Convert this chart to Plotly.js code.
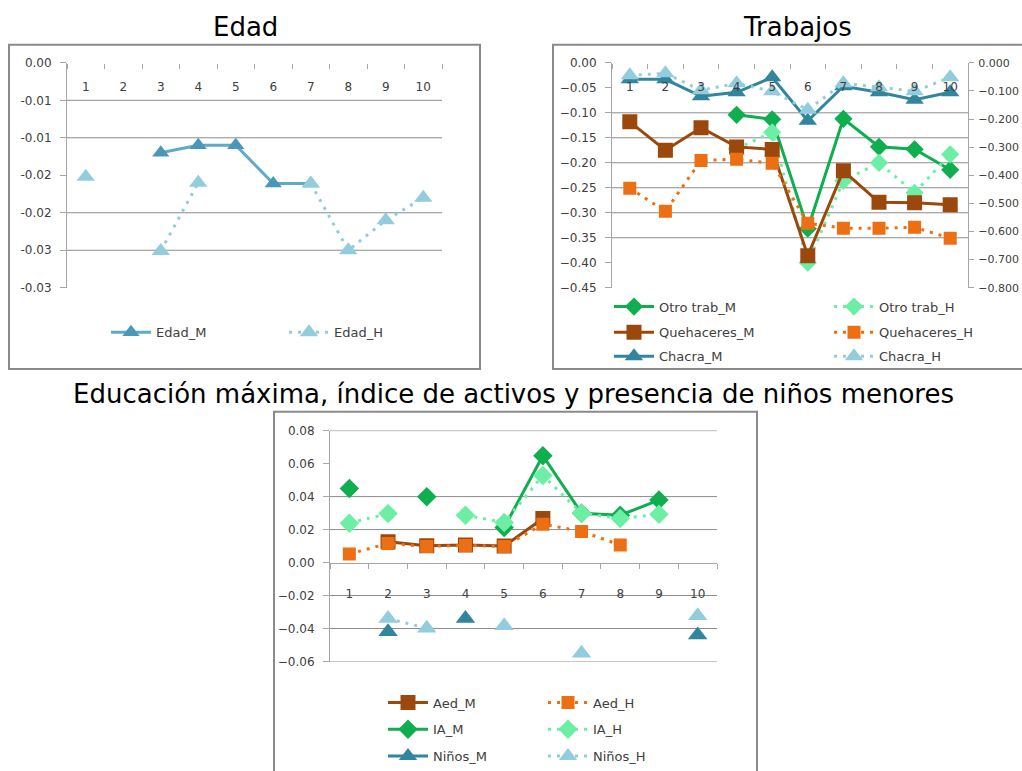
<!DOCTYPE html>
<html>
<head>
<meta charset="utf-8">
<script src="https://cdn.plot.ly/plotly-3.0.1.min.js"></script>
<style>
html,body{margin:0;padding:0;background:#fff;overflow:hidden;}
#chart{width:1022px;height:771px;}
</style>
</head>
<body>
<div id="chart"></div>
<script>
// ---------- DATA ----------
const categories = ['1','2','3','4','5','6','7','8','9','10'];

// Edad
const edadM = [null, null, -0.0120, -0.0110, -0.0110, -0.0161, -0.0161, null, null, null];
const edadH = [-0.0152, null, -0.0251, -0.0160, null, null, -0.0161, -0.0250, -0.0210, -0.0180];
const edadTickVals = [0, -0.005, -0.01, -0.015, -0.02, -0.025, -0.03];
const edadTickText = ['0.00', '-0.01', '-0.01', '-0.02', '-0.02', '-0.03', '-0.03'];
const edadGrid = [-0.005, -0.01, -0.02, -0.025];

// Trabajos (left axis)
const otroM = [null, null, null, -0.104, -0.113, -0.332, -0.112, -0.168, -0.173, -0.214];
const otroH = [null, null, null, -0.172, -0.139, -0.400, -0.236, -0.200, -0.260, -0.183];
// Trabajos (right axis)
const quehM = [-0.210, -0.311, -0.231, -0.299, -0.308, -0.686, -0.384, -0.496, -0.498, -0.505];
const quehH = [-0.446, -0.528, -0.347, -0.343, -0.357, -0.571, -0.588, -0.588, -0.585, -0.624];
// Trabajos (left axis)
const chacraM = [-0.033, -0.033, -0.067, -0.059, -0.029, -0.116, -0.047, -0.059, -0.074, -0.059];
const chacraH = [-0.025, -0.021, -0.055, -0.041, -0.057, -0.094, -0.041, -0.049, -0.057, -0.029];
const trabGrid = [-0.10, -0.15, -0.20, -0.25, -0.30, -0.35];

// Educación / activos / niños
const aedM = [null, 0.0126, 0.0102, 0.0106, 0.0100, 0.0267, null, null, null, null];
const aedH = [0.0052, 0.0116, 0.0098, 0.0104, 0.0098, 0.0233, 0.0189, 0.0106, null, null];
const iaM = [0.0449, null, 0.0399, null, 0.0212, 0.0648, 0.0299, 0.0287, 0.0379, null];
const iaH = [0.0239, 0.0297, null, 0.0287, 0.0243, 0.0528, 0.0299, 0.0267, 0.0293, null];
const ninosM = [null, -0.0419, null, -0.0339, null, null, null, null, null, -0.0439];
const ninosH = [null, -0.0339, -0.0399, null, -0.0383, null, -0.0550, null, null, -0.0323];
const eduGrid = [0.08, 0.04, 0.02, -0.02, -0.04, -0.06];

// ---------- STYLE ----------
const W = 1022, H = 771;
const FONT = 'DejaVu Sans';
const TXT = '#404040';
const GRID = '#8c8c8c';
const AX = '#a6a6a6';
const C = {
  edadM: '#5eaac9', edadMk: '#4a98b6', edadH: '#93cddd',
  green: '#0fae4f', mint: '#6cefa5',
  brown: '#9a480c', orange: '#ec6f14',
  teal: '#31859c', lblue: '#93cddd'
};
const px = v => v / W;
const py = v => 1 - v / H;

function tr(y, name, xa, ya, color, mcolor, symbol, size, dotted, legend) {
  return {
    x: categories, y: y, name: name, xaxis: xa, yaxis: ya, type: 'scatter',
    mode: 'lines+markers', connectgaps: false, legend: legend,
    line: {color: color, width: 3, dash: dotted ? '3px,6px' : 'solid'},
    marker: {color: mcolor, symbol: symbol, size: size, line: {width: 0}},
    hoverinfo: 'x+y+name'
  };
}

const data = [
  tr(edadM, 'Edad_M', 'x', 'y', C.edadM, C.edadMk, 'triangle-up', 15, false, 'legend'),
  tr(edadH, 'Edad_H', 'x', 'y', C.edadH, C.edadH, 'triangle-up', 16, true, 'legend2'),

  tr(otroM, 'Otro trab_M', 'x2', 'y2', C.green, C.green, 'diamond', 14, false, 'legend3'),
  tr(otroH, 'Otro trab_H', 'x2', 'y2', C.mint, C.mint, 'diamond', 14, true, 'legend4'),
  tr(quehM, 'Quehaceres_M', 'x2', 'y3', C.brown, C.brown, 'square', 15, false, 'legend5'),
  tr(quehH, 'Quehaceres_H', 'x2', 'y3', C.orange, C.orange, 'square', 13, true, 'legend6'),
  tr(chacraM, 'Chacra_M', 'x2', 'y2', C.teal, C.teal, 'triangle-up', 16, false, 'legend7'),
  tr(chacraH, 'Chacra_H', 'x2', 'y2', C.lblue, C.lblue, 'triangle-up', 16, true, 'legend8'),

  tr(aedM, 'Aed_M', 'x3', 'y4', C.brown, C.brown, 'square', 15, false, 'legend9'),
  tr(aedH, 'Aed_H', 'x3', 'y4', C.orange, C.orange, 'square', 13, true, 'legend10'),
  tr(iaM, 'IA_M', 'x3', 'y4', C.green, C.green, 'diamond', 15, false, 'legend11'),
  tr(iaH, 'IA_H', 'x3', 'y4', C.mint, C.mint, 'diamond', 15, true, 'legend12'),
  tr(ninosM, 'Niños_M', 'x3', 'y4', C.teal, C.teal, 'triangle-up', 17, false, 'legend13'),
  tr(ninosH, 'Niños_H', 'x3', 'y4', C.lblue, C.lblue, 'triangle-up', 17, true, 'legend14')
];

const tickFont = {family: FONT, size: 12, color: TXT};

function xax(domain, position, standoff, showline) {
  return {
    domain: domain, anchor: 'free', position: position, side: 'bottom',
    type: 'category', tickson: 'boundaries', range: [-0.5, 9.5],
    ticks: 'outside', ticklen: 5, tickcolor: AX, tickwidth: 1,
    showline: showline, linecolor: AX, linewidth: 1,
    showgrid: false, zeroline: false, tickfont: tickFont,
    ticklabelstandoff: standoff, fixedrange: true
  };
}
function yax(domain, anchor, range, extra) {
  return Object.assign({
    domain: domain, anchor: anchor, range: range,
    ticks: 'outside', ticklen: 6, tickcolor: AX,
    showline: true, linecolor: AX, linewidth: 1,
    showgrid: false, zeroline: false, tickfont: tickFont,
    ticklabelstandoff: 6, fixedrange: true
  }, extra);
}

const d1x = [px(67), px(442)], d2x = [px(612), px(968)], d3x = [px(330), px(717)];
const dTop = [py(290), py(63.3)], dBot = [py(666.7), py(434)];

function legAt(sx, sy) {
  return {
    x: px(sx), y: py(sy), xanchor: 'left', yanchor: 'middle',
    bgcolor: 'rgba(0,0,0,0)', borderwidth: 0, itemwidth: 40,
    font: {family: FONT, size: 13, color: TXT}
  };
}

const shapes = [];
function frame(x0, y0, x1, y1) {
  shapes.push({type: 'rect', xref: 'paper', yref: 'paper',
    x0: px(x0), x1: px(x1), y0: py(y1), y1: py(y0),
    line: {color: '#8a8a8a', width: 2}, fillcolor: 'rgba(0,0,0,0)', layer: 'below'});
}
frame(9, 45, 480, 372);
frame(553, 45, 1040, 372);
frame(274, 415, 757, 790);
function grids(vals, xref, yref) {
  vals.forEach(v => shapes.push({type: 'line', xref: xref + ' domain', yref: yref,
    x0: 0, x1: 1, y0: v, y1: v, line: {color: GRID, width: 1}, layer: 'below'}));
}
grids(edadGrid, 'x', 'y');
grids(trabGrid, 'x2', 'y2');
grids(eduGrid, 'x3', 'y4');

const titleFont = {family: FONT, size: 26, color: '#000'};
const annotations = [
  {text: 'Edad', x: px(245), y: py(27), xref: 'paper', yref: 'paper', showarrow: false, font: titleFont, xanchor: 'center', yanchor: 'middle'},
  {text: 'Trabajos', x: px(797), y: py(27), xref: 'paper', yref: 'paper', showarrow: false, font: titleFont, xanchor: 'center', yanchor: 'middle'},
  {text: 'Educación máxima, índice de activos y presencia de niños menores', x: px(513), y: py(397), xref: 'paper', yref: 'paper', showarrow: false, font: titleFont, xanchor: 'center', yanchor: 'middle'}
];

const layout = {
  width: W, height: H, autosize: false,
  margin: {l: 0, r: 0, t: 0, b: 0, pad: 0},
  paper_bgcolor: '#fff', plot_bgcolor: 'rgba(0,0,0,0)',
  showlegend: true, hovermode: 'closest',
  xaxis: xax(d1x, dTop[1], 15, false),
  yaxis: yax(dTop, 'x', [-0.03, 0], {tickmode: 'array', tickvals: edadTickVals, ticktext: edadTickText}),
  xaxis2: xax(d2x, dTop[1], 15, false),
  yaxis2: yax(dTop, 'x2', [-0.45, 0], {dtick: 0.05, tick0: 0, tickformat: '.2f'}),
  yaxis3: yax(dTop, 'x2', [-0.8, 0], {overlaying: 'y2', side: 'right', dtick: 0.1, tick0: 0, tickformat: '.3f',
    tickfont: {family: FONT, size: 11, color: TXT}, ticklabelstandoff: 2, ticklen: 5}),
  xaxis3: xax(d3x, py(567), 20, true),
  yaxis4: yax(dBot, 'x3', [-0.06, 0.08], {dtick: 0.02, tick0: 0, tickformat: '.2f'}),
  legend: legAt(106, 335),
  legend2: legAt(284, 335),
  legend3: legAt(609, 309),
  legend4: legAt(829, 309),
  legend5: legAt(609, 335),
  legend6: legAt(829, 335),
  legend7: legAt(609, 359),
  legend8: legAt(829, 359),
  legend9: legAt(383, 708),
  legend10: legAt(543, 708),
  legend11: legAt(383, 735),
  legend12: legAt(543, 735),
  legend13: legAt(383, 762),
  legend14: legAt(543, 762),
  shapes: shapes,
  annotations: annotations
};

Plotly.newPlot('chart', data, layout, {displayModeBar: false, responsive: false});
</script>
</body>
</html>
